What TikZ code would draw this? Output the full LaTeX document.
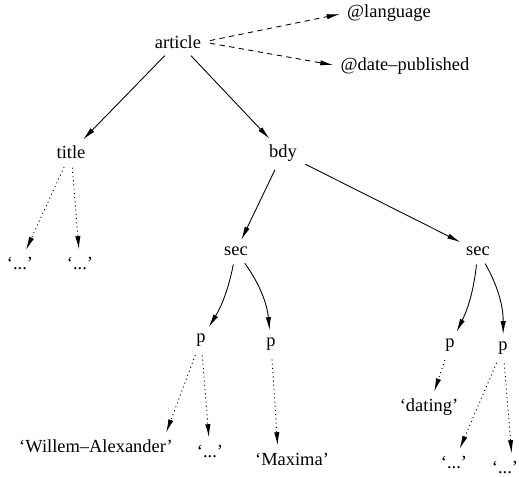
\documentclass[tikz,border=0pt]{standalone}
\usepackage{fontspec}
\setmainfont{Liberation Serif}
\usetikzlibrary{arrows.meta}

\begin{document}
\begin{tikzpicture}[
    x=0.02cm, y=-0.02cm,
    every node/.style={font=\fontsize{10.5}{12}\selectfont, inner sep=1pt},
    arr/.style={-{Latex[length=7.5pt,width=3pt]}, line width=0.5pt,
                shorten <=4pt, shorten >=3pt},
    child/.style={arr},
    attr/.style={arr, dash pattern=on 3pt off 2.5pt},
    txt/.style={arr, dash pattern=on 0.6pt off 1.8pt}
]
    \useasboundingbox (0,0) rectangle (519,476);

    % element nodes
    \node (article) at (178,42) {article};
    \node (lang) at (389,13) {@language};
    \node (date) at (405,66) {@date--published};
    \node (title) at (71,152) {title};
    \node (bdy) at (283,153) {bdy};
    \node (secA) at (236,251) {sec};
    \node (secB) at (478,251) {sec};
    \node (pA1) at (201,340) {p};
    \node (pA2) at (271,344) {p};
    \node (pB1) at (450,345) {p};
    \node (pB2) at (503,348) {p};

    % text leaves
    \node (tA1) at (20,263) {‘...’};
    \node (tA2) at (80,263) {‘...’};
    \node (wa) at (96,446) {‘Willem--Alexander’};
    \node (dA) at (210,451) {‘...’};
    \node (max) at (292,459) {‘Maxima’};
    \node (dat) at (429,407) {‘dating’};
    \node (dB1) at (454,462) {‘...’};
    \node (dB2) at (505,467) {‘...’};

    \draw[child] (article) -- (title);
    \draw[child] (article) -- (bdy);
    \draw[child] (bdy) -- (secA);
    \draw[child] (bdy) -- (secB);
    \draw[child] (secA) to[bend left=10] (pA1);
    \draw[child] (secA) to[bend left=15] (pA2);
    \draw[child] (secB) to[bend left=10] (pB1);
    \draw[child] (secB) to[bend left=15] (pB2);

    \draw[attr] (article.east) -- (lang.west);
    \draw[attr] (article.east) -- (date.west);

    \draw[txt] (title) -- (tA1);
    \draw[txt] (title) -- (tA2);
    \draw[txt] (pA1) -- ([xshift=-6pt]wa.north east);
    \draw[txt] (pA1) -- (dA);
    \draw[txt] (pA2) -- ([xshift=-8pt]max.north);
    \draw[txt] (pB1) -- (dat);
    \draw[txt] (pB2) -- (dB1);
    \draw[txt] (pB2) -- ([xshift=4pt]dB2.north);
\end{tikzpicture}
\end{document}
